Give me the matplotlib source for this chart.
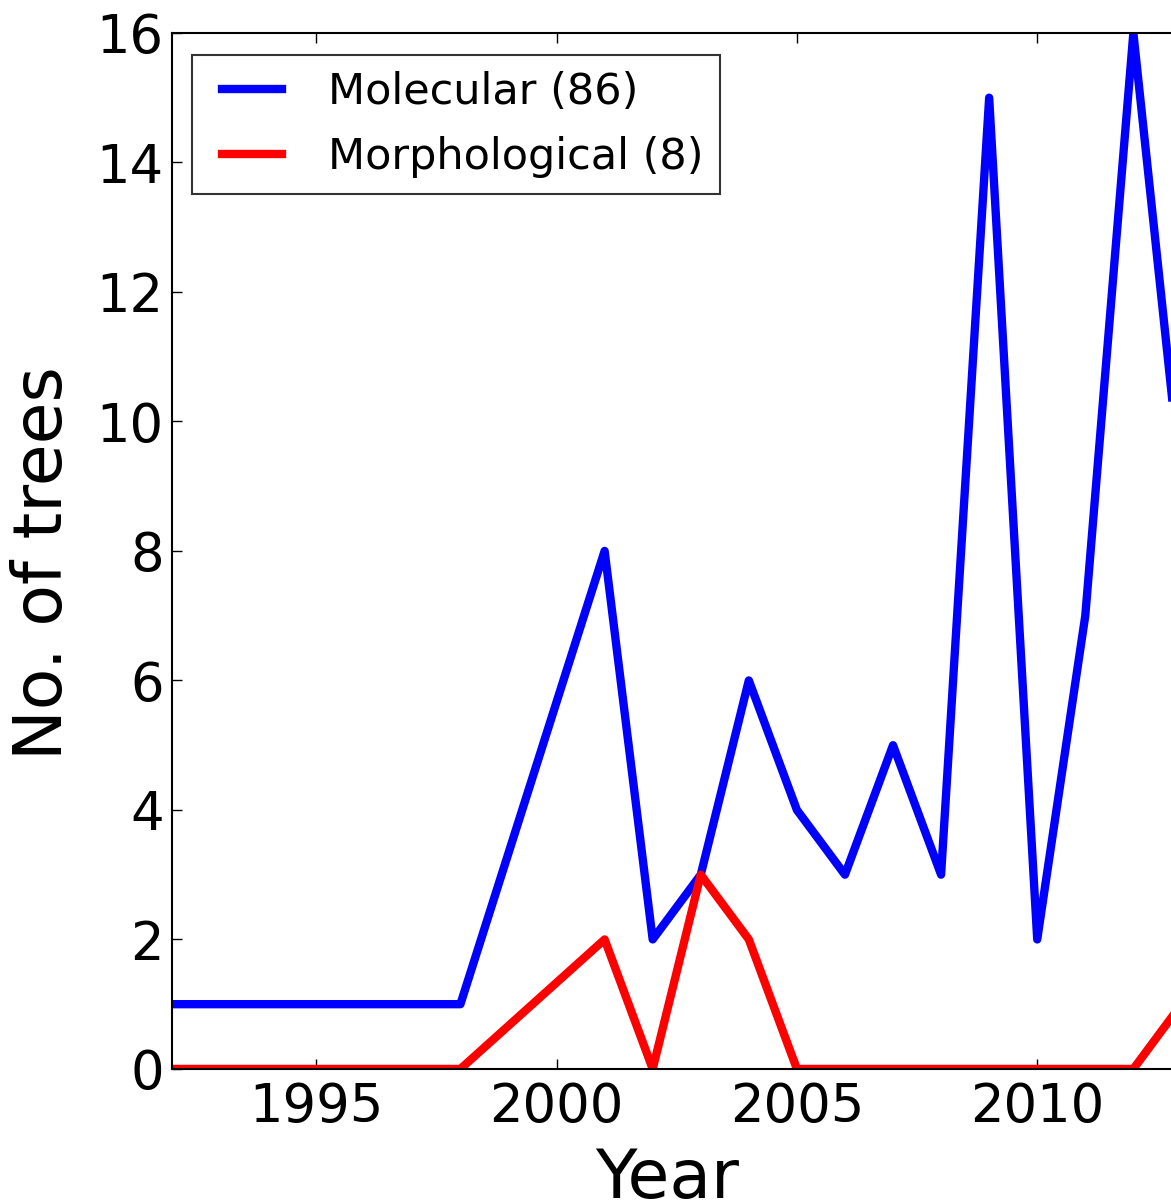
import numpy as np
import matplotlib
matplotlib.use("Agg")
import matplotlib.pyplot as plt

# trees published per year
mol_years = [1992, 1993, 1994, 1995, 1996, 1997, 1998, 2001, 2002, 2003, 2004, 2005,
             2006, 2007, 2008, 2009, 2010, 2011, 2012, 2013]
mol_counts = [1, 1, 1, 1, 1, 1, 1, 8, 2, 3, 6, 4, 3, 5, 3, 15, 2, 7, 16, 9]

morph_years = [1992, 1998, 2001, 2002, 2003, 2004, 2005, 2012, 2013]
morph_counts = [0, 0, 2, 0, 3, 2, 0, 0, 1]

labels = ["Molecular (86)", "Morphological (8)"]
xticks = [1995, 2000, 2005, 2010]
yticks = np.arange(0, 17, 2)

plt.rcParams['font.family'] = ['DejaVu Sans']

fig = plt.figure(figsize=(11.71, 12.02), dpi=100)
# axes run past the right edge of the figure (cropped like the original)
ax = fig.add_axes([0.1469, 0.1107, 0.862, 0.8619])

ax.plot(mol_years, mol_counts, color='b', lw=6, label=labels[0])
ax.plot(morph_years, morph_counts, color='r', lw=6, label=labels[1])

ax.set_xlim(1992, 2013)
ax.set_ylim(0, 16)
ax.set_xticks(xticks)
ax.set_yticks(yticks)
ax.tick_params(direction='in', top=True, right=True, length=7, width=1,
               labelsize=38)
ax.tick_params(axis='x', pad=9)
ax.tick_params(axis='y', pad=6)
for s in ax.spines.values():
    s.set_linewidth(1.5)

ax.set_xlabel("Year", fontsize=49)
ax.xaxis.set_label_coords(0.491, -0.074, transform=ax.transAxes)
ax.xaxis.label.set_va('top')
ax.set_ylabel("No. of trees", fontsize=49)
ax.yaxis.set_label_coords(-0.095, 0.488, transform=ax.transAxes)
ax.yaxis.label.set_va('bottom')

leg = ax.legend(loc='upper left', bbox_to_anchor=(0.0198, 0.9788),
                borderaxespad=0, fontsize=31, fancybox=False,
                handlelength=1.72, handletextpad=1.07, borderpad=0.38,
                labelspacing=0.52)
leg.get_frame().set_edgecolor('black')
leg.get_frame().set_linewidth(1.5)
# handles start a little in from the frame, like the old legend layout
for ln in leg.get_lines():
    xd = np.asarray(ln.get_xdata(), dtype=float)
    ln.set_xdata(np.linspace(xd[0] + 10, xd[-1], len(xd)))

fig.savefig('out.png', dpi=100)
